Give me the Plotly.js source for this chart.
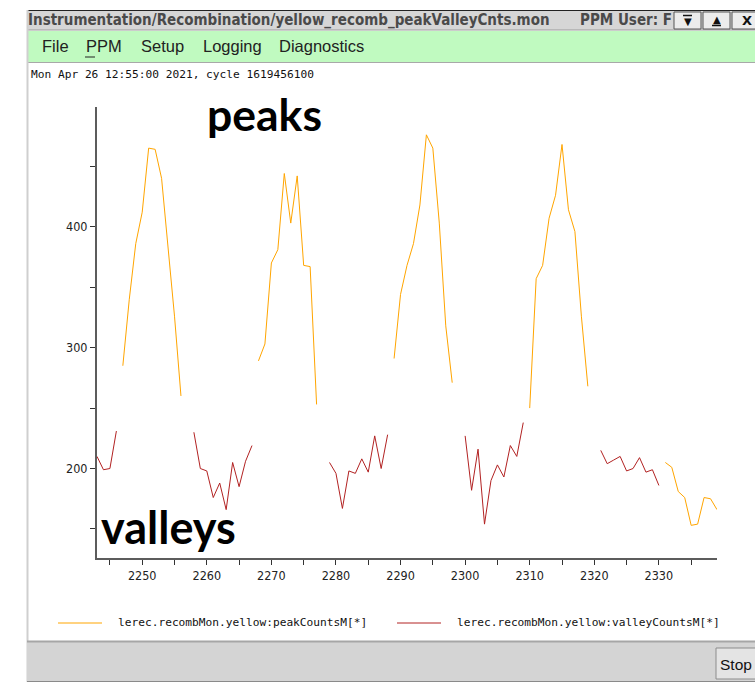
<!DOCTYPE html>
<html>
<head>
<meta charset="utf-8">
<script src="https://cdn.plot.ly/plotly-3.0.1.min.js"></script>
<style>
html,body{margin:0;padding:0;background:#fff;}
#chart{width:755px;height:685px;}
</style>
</head>
<body>
<div id="chart"></div>
<script>
// ---- data ----
const cycleIdx = [2243,2244,2245,2246,2247,2248,2249,2250,2251,2252,2253,2254,2255,2256,2257,2258,2259,2260,2261,2262,2263,2264,2265,2266,2267,2268,2269,2270,2271,2272,2273,2274,2275,2276,2277,2278,2279,2280,2281,2282,2283,2284,2285,2286,2287,2288,2289,2290,2291,2292,2293,2294,2295,2296,2297,2298,2299,2300,2301,2302,2303,2304,2305,2306,2307,2308,2309,2310,2311,2312,2313,2314,2315,2316,2317,2318,2319,2320,2321,2322,2323,2324,2325,2326,2327,2328,2329,2330,2331,2332,2333,2334,2335,2336,2337,2338,2339];

const peakCounts = [
  null,null,null,null,
  285,340,386,412,465,464,440,382,326,260,
  null,null,null,null,null,null,null,null,null,null,null,
  289,303,370,381,444,403,442,368,367,253,
  null,null,null,null,null,null,null,null,null,null,null,
  291,344,368,386,418,476,465,403,318,271,
  null,null,null,null,null,null,null,null,null,null,null,
  250,357,368,407,426,468,414,396,326,268,
  null,null,null,null,null,null,null,null,null,null,null,
  205,201,181,176,153,154,176,175,166
];

const valleyCounts = [
  210,199,200,231,
  null,null,null,null,null,null,null,null,null,null,null,
  230,200,198,176,188,166,205,185,206,219,
  null,null,null,null,null,null,null,null,null,null,null,
  205,196,167,198,196,208,197,227,200,228,
  null,null,null,null,null,null,null,null,null,null,null,
  227,182,216,154,190,203,193,219,210,238,
  null,null,null,null,null,null,null,null,null,null,null,
  215,204,207,210,198,200,209,197,199,186,
  null,null,null,null,null,null,null,null,null
];

const xTickVals = [2250,2260,2270,2280,2290,2300,2310,2320,2330];
const xMinorVals = [2245,2255,2265,2275,2285,2295,2305,2315,2325,2335];
const yTickVals = [200,300,400];
const yMinorVals = [150,250,350,450];

const peakName = 'lerec.recombMon.yellow:peakCountsM[*]';
const valleyName = 'lerec.recombMon.yellow:valleyCountsM[*]';
const windowTitle = 'Instrumentation/Recombination/yellow_recomb_peakValleyCnts.mon';
const userText = 'PPM User: F';
const menuItems = ['File','PPM','Setup','Logging','Diagnostics'];
const stampText = 'Mon Apr 26 12:55:00 2021, cycle 1619456100';

const peakColor = '#ffa500';
const valleyColor = '#b22222';

// ---- layout geometry (pixels) ----
const W = 755, H = 685;
const M = {l:97, r:38, t:107, b:127};
const PW = W - M.l - M.r, PH = H - M.t - M.b;
const fx = px => (px - M.l) / PW;
const fy = py => (H - M.b - py) / PH;

const shapes = [];
const ann = [];
function rect(x0,y0,x1,y1,fill,lineColor,lw){
  shapes.push({type:'rect', xref:'paper', yref:'paper', x0:fx(x0), x1:fx(x1), y0:fy(y1), y1:fy(y0),
    fillcolor:fill, line:{color:lineColor||fill, width: lw===undefined?0:lw}, layer:'below'});
}
function line(x0,y0,x1,y1,color,w){
  shapes.push({type:'line', xref:'paper', yref:'paper', x0:fx(x0), x1:fx(x1), y0:fy(y0), y1:fy(y1),
    line:{color:color, width:w||1}, layer:'below'});
}
function text(str,px,py,font,anchor){
  ann.push({text:str, xref:'paper', yref:'paper', x:fx(px), y:fy(py), xanchor:anchor||'left', yanchor:'middle',
    showarrow:false, font:font});
}

// title bar
rect(27,10,760,30,'#d6d6d6');
line(27,10.5,760,10.5,'#222',1);
line(27,30,760,30,'#9a9a9a',1);
text(windowTitle, 26, 20, {family:'DejaVu Sans Condensed, DejaVu Sans', size:15, color:'#4a4a4a', weight:'bold'});
text(userText, 578, 20, {family:'DejaVu Sans Condensed, DejaVu Sans', size:15, color:'#4a4a4a', weight:'bold'});
// title buttons
rect(674,12,701,29,'#ececec','#555',1);
rect(703,12,730,29,'#ececec','#555',1);
rect(732,12,760,29,'#ececec','#555',1);
text('▼', 687.5, 21.5, {family:'DejaVu Sans', size:10, color:'#111'}, 'center');
line(683,15.5,692,15.5,'#111',1.5);
text('▲', 716.5, 19.5, {family:'DejaVu Sans', size:10, color:'#111'}, 'center');
line(712,25.5,721,25.5,'#111',1.5);
text('X', 747, 20.5, {family:'DejaVu Sans', size:13, color:'#111', weight:'bold'}, 'center');

// menu bar
rect(27,31,760,62,'#c0fac0');
line(27,62.5,760,62.5,'#a8a8a8',1);
const menuX = [40,84,139,201,277];
menuItems.forEach((m,i)=> text(m, menuX[i], 46, {family:'Liberation Sans, Arial', size:16.5, color:'#222'}));
line(85,57,95,57,'#222',1);

// left window border
line(27.5,10,27.5,682,'#cfcfcf',2);

// timestamp
text(stampText, 29, 75, {family:'DejaVu Sans Mono', size:11.2, color:'#111'});

// big labels
text('peaks', 264.5, 113, {family:'Lato, Open Sans', size:44.5, color:'#000', weight:'bold'}, 'center');
text('valleys', 168, 527, {family:'Lato, Open Sans', size:45, color:'#000', weight:'bold'}, 'center');

// legend (manual)
line(58,623,102,623,peakColor,1);
text(peakName, 116, 622, {family:'DejaVu Sans Mono', size:11.2, color:'#111'});
line(397,623,441,623,valleyColor,1);
text(valleyName, 455, 622, {family:'DejaVu Sans Mono', size:11.2, color:'#111'});

// bottom bar
rect(27,642,760,681,'#d4d4d4');
line(27,641.5,760,641.5,'#a6a6a6',2);
line(27,681.5,760,681.5,'#8a8a8a',1);
rect(716,648,760,679,'#e4e4e4','#8c8c8c',1);
text('Stop', 718, 664, {family:'Liberation Sans, Arial', size:15.5, color:'#111'});

const traces = [
  {x:cycleIdx, y:peakCounts, name:peakName, type:'scatter', mode:'lines',
   line:{color:peakColor, width:1}, connectgaps:false, hoverinfo:'skip'},
  {x:cycleIdx, y:valleyCounts, name:valleyName, type:'scatter', mode:'lines',
   line:{color:valleyColor, width:1}, connectgaps:false, hoverinfo:'skip'}
];

const axisCommon = {
  showline:true, linecolor:'#5c5c5c', linewidth:2, mirror:false,
  showgrid:false, zeroline:false,
  ticks:'outside', ticklen:5, tickwidth:1, tickcolor:'#333',
  tickfont:{family:'Liberation Sans Narrow, DejaVu Sans Condensed, Liberation Sans', size:12.5, color:'#222'}
};

const layout = {
  width:W, height:H,
  margin:{l:M.l, r:M.r, t:M.t, b:M.b, pad:0},
  paper_bgcolor:'#ffffff', plot_bgcolor:'#ffffff',
  showlegend:false,
  xaxis:Object.assign({}, axisCommon, {
    range:[2243,2339], tickmode:'array', tickvals:xTickVals, ticktext:xTickVals.map(String),
    minor:{tickmode:'array', tickvals:xMinorVals, ticks:'outside', ticklen:5, tickcolor:'#333', tickwidth:1}
  }),
  yaxis:Object.assign({}, axisCommon, {
    range:[126,499], tickmode:'array', tickvals:yTickVals, ticktext:yTickVals.map(String),
    minor:{tickmode:'array', tickvals:yMinorVals, ticks:'outside', ticklen:5, tickcolor:'#333', tickwidth:1}
  }),
  shapes:shapes,
  annotations:ann
};

Plotly.newPlot('chart', traces, layout, {staticPlot:true, displayModeBar:false});
</script>
</body>
</html>
